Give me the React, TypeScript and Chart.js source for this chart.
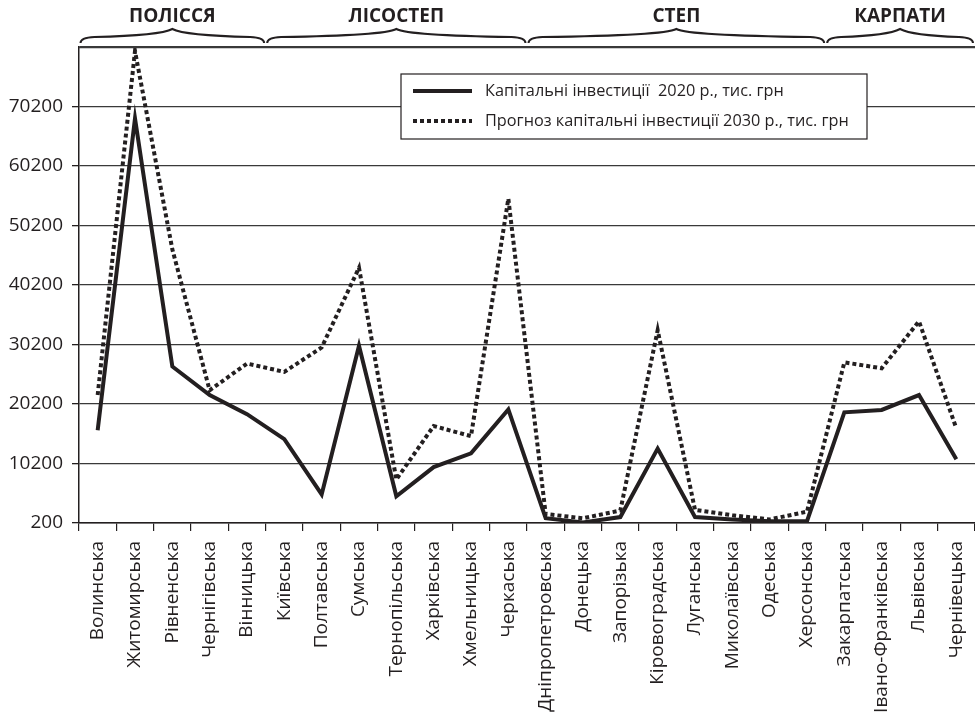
import React, { useEffect, useRef } from "react";
import { Chart, registerables } from "chart.js";

Chart.register(...registerables);

const categories = [
  "Волинська", "Житомирська", "Рівненська", "Чернігівська", "Вінницька",
  "Київська", "Полтавська", "Сумська", "Тернопільська", "Харківська", "Хмельницька", "Черкаська",
  "Дніпропетровська", "Донецька", "Запорізька", "Кіровоградська", "Луганська", "Миколаївська", "Одеська", "Херсонська",
  "Закарпатська", "Івано-Франківська", "Львівська", "Чернівецька",
];

const invest2020 = [
  15800, 68200, 26500, 21700, 18500,
  14300, 5000, 30000, 4700, 9600, 11900, 19300,
  1000, 300, 1200, 12700, 1200, 800, 500, 500,
  18800, 19200, 21700, 10900,
];

const forecast2030 = [
  21700, 79500, 46200, 22500, 27000,
  25600, 29700, 43100, 7500, 16500, 14800, 54700,
  1700, 1000, 2300, 32600, 2400, 1500, 800, 2100,
  27200, 26200, 34100, 16100,
];

const seriesLabels = [
  "Капітальні інвестиції  2020 р., тис. грн",
  "Прогноз капітальні інвестиції 2030 р., тис. грн",
];

const yTicks = [200, 10200, 20200, 30200, 40200, 50200, 60200, 70200];
const yMin = 200;
const yMax = 80200;

const regionNames = ["ПОЛІССЯ", "ЛІСОСТЕП", "СТЕП", "КАРПАТИ"];
const regionCounts = [5, 7, 8, 4];

const INK = "#231f20";
const FONT = "'Open Sans', 'Noto Sans', sans-serif";

const bracePlugin = {
  id: "regionBraces",
  afterDraw(chart: any) {
    const ctx = chart.ctx;
    const xs = chart.scales.x;
    const a = chart.chartArea;
    const half = (xs.getPixelForValue(1) - xs.getPixelForValue(0)) / 2;
    ctx.save();
    // top frame line
    ctx.beginPath();
    ctx.strokeStyle = "#3a3a3a";
    ctx.lineWidth = 1.3;
    ctx.moveTo(a.left, Math.round(a.top) + 0.5);
    ctx.lineTo(a.right, Math.round(a.top) + 0.5);
    ctx.stroke();
    let start = 0;
    regionCounts.forEach((n, i) => {
      const x1 = xs.getPixelForValue(start) - half + 1.5;
      const x2 = Math.min(xs.getPixelForValue(start + n - 1) + half - 1.5, chart.width - 2);
      const mid = (x1 + x2) / 2;
      ctx.beginPath();
      ctx.strokeStyle = INK;
      ctx.lineWidth = 2;
      ctx.moveTo(x1, 43);
      ctx.quadraticCurveTo(x1, 37.5, x1 + 14, 37);
      ctx.quadraticCurveTo(mid - 12, 35.5, mid, 29);
      ctx.quadraticCurveTo(mid + 12, 35.5, x2 - 14, 37);
      ctx.quadraticCurveTo(x2, 37.5, x2, 43);
      ctx.stroke();
      ctx.fillStyle = INK;
      ctx.font = `bold 19px ${FONT}`;
      ctx.textAlign = "center";
      ctx.textBaseline = "middle";
      ctx.fillText(regionNames[i], mid, 17);
      start += n;
    });
    ctx.restore();
  },
};

const legendPlugin = {
  id: "boxLegend",
  afterDatasetsDraw(chart: any) {
    const ctx = chart.ctx;
    const a = chart.chartArea;
    const bx = a.left + 322;
    const by = a.top + 27;
    const bw = 466;
    const bh = 65;
    ctx.save();
    ctx.fillStyle = "#ffffff";
    ctx.fillRect(bx, by, bw, bh);
    ctx.strokeStyle = INK;
    ctx.lineWidth = 1.2;
    ctx.setLineDash([]);
    ctx.strokeRect(bx, by, bw, bh);
    chart.data.datasets.forEach((ds: any, i: number) => {
      const y = by + 17 + i * 30;
      ctx.beginPath();
      ctx.strokeStyle = ds.borderColor;
      ctx.lineWidth = ds.borderWidth;
      ctx.lineCap = "butt";
      ctx.setLineDash(ds.borderDash || []);
      ctx.moveTo(bx + 12, y);
      ctx.lineTo(bx + 71, y);
      ctx.stroke();
      ctx.setLineDash([]);
      ctx.fillStyle = INK;
      ctx.font = `16.3px ${FONT}`;
      ctx.textAlign = "left";
      ctx.textBaseline = "middle";
      ctx.fillText(ds.label, bx + 84, y);
    });
    ctx.restore();
  },
};

export default function App() {
  const ref = useRef<HTMLCanvasElement | null>(null);

  useEffect(() => {
    if (!ref.current) return;
    const chart = new Chart(ref.current, {
      type: "line",
      data: {
        labels: categories,
        datasets: [
          {
            label: seriesLabels[0],
            data: invest2020,
            borderColor: INK,
            borderWidth: 4,
            pointRadius: 0,
            tension: 0,
            fill: false,
          },
          {
            label: seriesLabels[1],
            data: forecast2030,
            borderColor: INK,
            borderWidth: 4,
            borderDash: [4, 3],
            pointRadius: 0,
            tension: 0,
            fill: false,
          },
        ],
      },
      options: {
        responsive: false,
        animation: false,
        devicePixelRatio: 1,
        layout: { padding: { top: 47, left: 0, right: 0, bottom: 0 } },
        plugins: {
          legend: { display: false },
          tooltip: { enabled: false },
        },
        scales: {
          x: {
            type: "category",
            offset: true,
            grid: {
              offset: true,
              drawOnChartArea: false,
              tickLength: 8,
              color: INK,
              lineWidth: 1.2,
            },
            border: { color: INK, width: 1.5 },
            ticks: {
              autoSkip: false,
              maxRotation: 90,
              minRotation: 90,
              padding: 10,
              color: INK,
              font: { family: FONT, size: 19 },
            },
            afterFit: (s: any) => {
              s.height = 193;
              s.paddingLeft = 0;
              s.paddingRight = 0;
            },
          },
          y: {
            min: yMin,
            max: yMax,
            afterBuildTicks: (s: any) => {
              s.ticks = [...yTicks, yMax].map((v) => ({ value: v }));
            },
            grid: {
              color: "#3a3a3a",
              lineWidth: 1.3,
              tickLength: 7,
              tickColor: (c: any) => (c.tick && c.tick.value === yMax ? "rgba(0,0,0,0)" : INK),
            },
            border: { color: INK, width: 1.5 },
            ticks: {
              autoSkip: false,
              padding: 9,
              color: INK,
              font: { family: FONT, size: 19 },
              callback: (v: any) => (yTicks.includes(Number(v)) ? String(v) : ""),
            },
            afterFit: (s: any) => {
              s.width = 79;
              s.paddingTop = 0;
              s.paddingBottom = 0;
            },
          },
        },
      },
      plugins: [legendPlugin, bracePlugin],
    });
    return () => chart.destroy();
  }, []);

  return (
    <div style={{ position: "fixed", left: 0, top: 0, width: 975, height: 716, background: "#fff" }}>
      <canvas ref={ref} width={975} height={716} style={{ width: 975, height: 716, display: "block" }} />
    </div>
  );
}
